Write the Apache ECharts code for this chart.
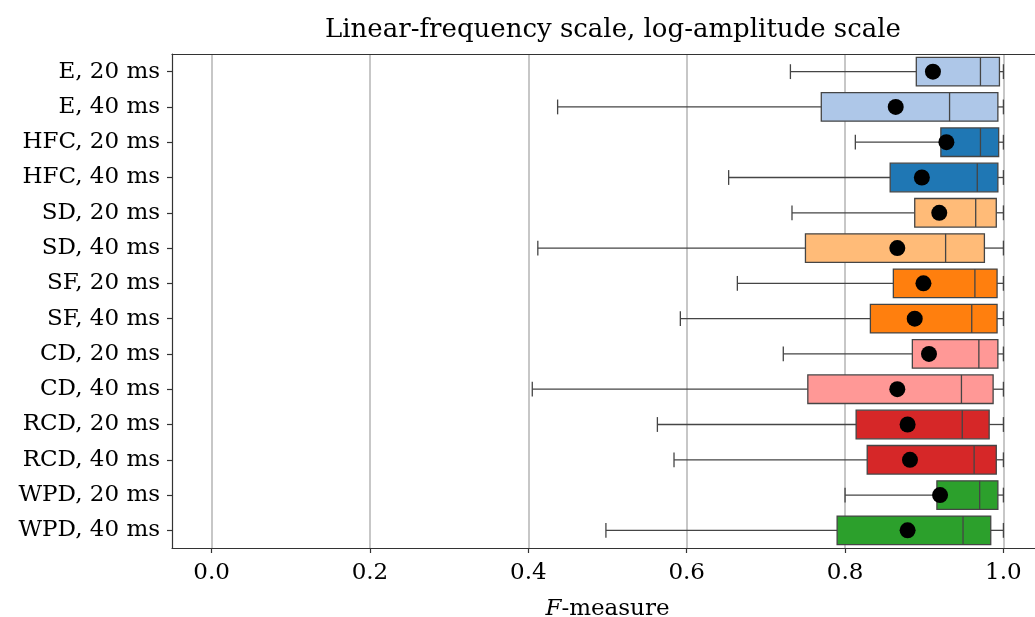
<!DOCTYPE html>
<html>
<head>
<meta charset="utf-8">
<script src="https://cdn.jsdelivr.net/npm/echarts@6/dist/echarts.min.js"></script>
<style>
html,body{margin:0;padding:0;background:#fff;}
#chart{width:1035px;height:617px;}
</style>
</head>
<body>
<div id="chart"></div>
<script>
// ---- data ----
const categories = ['E, 20 ms','E, 40 ms','HFC, 20 ms','HFC, 40 ms','SD, 20 ms','SD, 40 ms','SF, 20 ms','SF, 40 ms','CD, 20 ms','CD, 40 ms','RCD, 20 ms','RCD, 40 ms','WPD, 20 ms','WPD, 40 ms'];
const whiskerLow  = [0.731, 0.437, 0.813, 0.653, 0.733, 0.412, 0.664, 0.592, 0.722, 0.405, 0.563, 0.584, 0.800, 0.498];
const q1          = [0.890, 0.770, 0.921, 0.857, 0.888, 0.750, 0.861, 0.832, 0.885, 0.753, 0.814, 0.828, 0.916, 0.790];
const median      = [0.971, 0.932, 0.971, 0.967, 0.965, 0.927, 0.964, 0.960, 0.969, 0.947, 0.948, 0.963, 0.970, 0.949];
const q3          = [0.995, 0.993, 0.994, 0.993, 0.991, 0.976, 0.992, 0.992, 0.993, 0.987, 0.982, 0.991, 0.993, 0.984];
const whiskerHigh = [1.000, 1.000, 1.000, 1.000, 1.000, 1.000, 1.000, 1.000, 1.000, 1.000, 1.000, 1.000, 1.000, 1.000];
const means       = [0.911, 0.864, 0.928, 0.897, 0.919, 0.866, 0.899, 0.888, 0.906, 0.866, 0.879, 0.882, 0.920, 0.879];
const xTicks = [0.0, 0.2, 0.4, 0.6, 0.8, 1.0];

// ---- style ----
const palette = ['#aec7e8','#aec7e8','#1f77b4','#1f77b4','#ffbb78','#ffbb78','#ff7f0e','#ff7f0e','#ff9896','#ff9896','#d62728','#d62728','#2ca02c','#2ca02c'];
const FONT = '"DejaVu Serif", "Liberation Serif", serif';
const FS = 23;
const EDGE = '#454545';

const boxData = categories.map((c, i) => [i, whiskerLow[i], q1[i], median[i], q3[i], whiskerHigh[i]]);
const meanData = categories.map((c, i) => [means[i], i]);

function renderBox(params, api) {
  const i = api.value(0);
  const lo = api.value(1), a = api.value(2), m = api.value(3), b = api.value(4), hi = api.value(5);
  const band = api.size([0, 1])[1];
  const bh = band * 0.81, ch = band * 0.42;
  const pLo = api.coord([lo, i]), pA = api.coord([a, i]), pM = api.coord([m, i]), pB = api.coord([b, i]), pHi = api.coord([hi, i]);
  const y = pA[1];
  const ls = {stroke: EDGE, lineWidth: 1.3};
  return {
    type: 'group',
    children: [
      {type: 'line', shape: {x1: pLo[0], y1: y, x2: pA[0], y2: y}, style: ls},
      {type: 'line', shape: {x1: pB[0], y1: y, x2: pHi[0], y2: y}, style: ls},
      {type: 'line', shape: {x1: pLo[0], y1: y - ch / 2, x2: pLo[0], y2: y + ch / 2}, style: ls},
      {type: 'line', shape: {x1: pHi[0], y1: y - ch / 2, x2: pHi[0], y2: y + ch / 2}, style: ls},
      {type: 'rect', shape: {x: pA[0], y: y - bh / 2, width: pB[0] - pA[0], height: bh},
       style: {fill: palette[i], stroke: EDGE, lineWidth: 1.3}},
      {type: 'line', shape: {x1: pM[0], y1: y - bh / 2, x2: pM[0], y2: y + bh / 2}, style: ls}
    ]
  };
}

const chart = echarts.init(document.getElementById('chart'), null, {renderer: 'canvas'});
chart.setOption({
  animation: false,
  backgroundColor: '#fff',
  title: {
    text: 'Linear-frequency scale, log-amplitude scale',
    left: 608, top: 12, textAlign: 'center',
    textStyle: {fontFamily: FONT, fontSize: 26, fontWeight: 'normal', color: '#000'}
  },
  grid: {left: 172, top: 54, width: 871, height: 494, containLabel: false, outerBoundsMode: 'none'},
  xAxis: [{
    type: 'value', min: -0.05, max: 1.05, interval: 0.2,
    position: 'bottom',
    name: '{i|F}-measure', nameLocation: 'middle', nameGap: 50,
    nameTextStyle: {fontFamily: FONT, fontSize: FS, color: '#000',
      rich: {i: {fontFamily: FONT, fontSize: FS, fontStyle: 'italic', color: '#000'}}},
    axisLine: {show: true, onZero: false, lineStyle: {color: '#333', width: 1.2}},
    axisTick: {show: true, length: 5, lineStyle: {color: '#333', width: 1.2},
      customValues: xTicks},
    axisLabel: {fontFamily: FONT, fontSize: FS, color: '#000', margin: 14,
      customValues: xTicks, formatter: v => v.toFixed(1)},
    splitLine: {show: true, lineStyle: {color: '#b4b4b4', width: 1.5}}
  }, {
    type: 'value', min: -0.05, max: 1.05, position: 'top',
    axisLine: {show: true, onZero: false, lineStyle: {color: '#333', width: 1.2}},
    axisTick: {show: false}, axisLabel: {show: false}, splitLine: {show: false}
  }],
  yAxis: {
    type: 'category', data: categories, inverse: true,
    axisLine: {show: true, onZero: false, lineStyle: {color: '#333', width: 1.2}},
    axisTick: {show: true, alignWithLabel: true, length: 5, lineStyle: {color: '#333', width: 1.2}},
    axisLabel: {fontFamily: FONT, fontSize: FS, color: '#000', margin: 12},
    splitLine: {show: false}
  },
  series: [{
    type: 'custom', renderItem: renderBox, data: boxData,
    encode: {x: [1, 2, 3, 4, 5], y: 0}, z: 3
  }, {
    type: 'scatter', data: meanData, symbol: 'circle', symbolSize: 16,
    itemStyle: {color: '#000', opacity: 1}, z: 5
  }]
});
</script>
</body>
</html>
